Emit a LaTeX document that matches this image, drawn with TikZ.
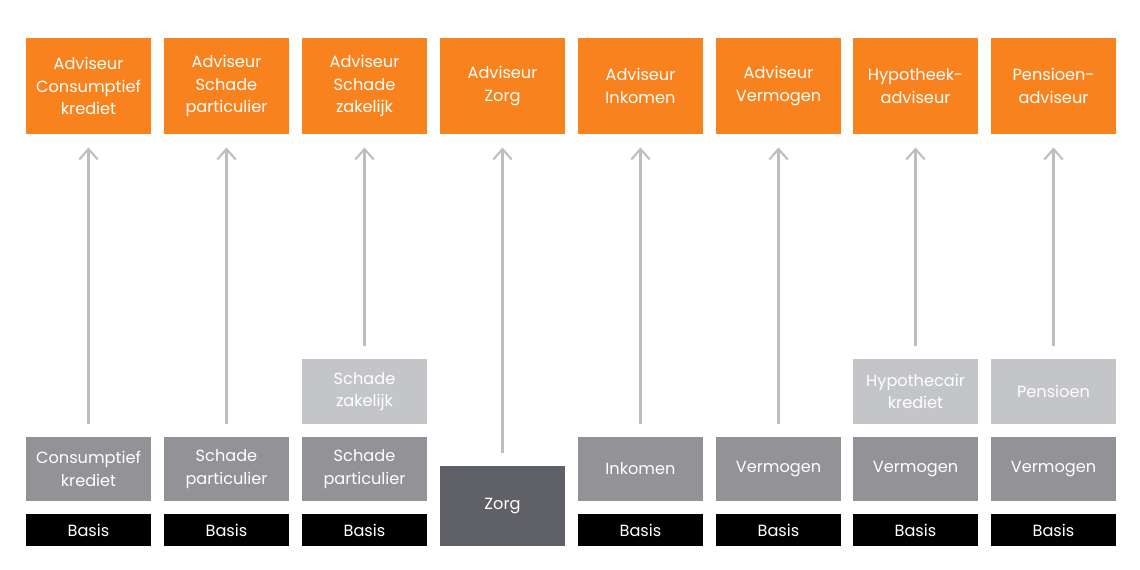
\documentclass[tikz,border=0pt]{standalone}
\usepackage{fontspec}
\setmainfont{Poppins}
\usepackage{xcolor}
\definecolor{advorange}{RGB}{248,131,30}
\definecolor{midgray}{RGB}{146,146,151}
\definecolor{lightgray}{RGB}{196,197,201}
\definecolor{darkgray}{RGB}{96,97,102}
\definecolor{arrowgray}{RGB}{190,190,194}
\usetikzlibrary{arrows.meta}

\tikzset{
  box/.style={minimum width=3.125cm, inner sep=0pt, align=center, text=white,
    font=\fontsize{11.5}{16}\selectfont},
  adviseur/.style={box, fill=advorange, minimum height=2.4cm},
  module/.style={box, fill=midgray, minimum height=1.6cm},
  extra/.style={box, fill=lightgray, minimum height=1.6cm},
  basis/.style={box, fill=black, minimum height=0.8cm},
  zorgbox/.style={box, fill=darkgray, minimum height=2cm},
  upline/.style={arrowgray, line width=1.5pt, -{Straight Barb[length=2.6mm, width=4.6mm]},
    shorten <=0.33cm, shorten >=0.33cm}
}

\begin{document}
\begin{tikzpicture}[x=0.025cm, y=-0.025cm]
  \useasboundingbox (0,0) rectangle (1140,570);

  % Bovenste rij: adviseursdiploma's
  \node[adviseur] (advck) at (88.5,86) {Adviseur\\Consumptief\\krediet};
  \node[adviseur] (advsp) at (226.5,86) {Adviseur\\Schade\\particulier};
  \node[adviseur] (advsz) at (364.5,86) {Adviseur\\Schade\\zakelijk};
  \node[adviseur] (advzo) at (502.5,86) {Adviseur\\Zorg};
  \node[adviseur] (advin) at (640.5,86) {Adviseur\\Inkomen};
  \node[adviseur] (advve) at (778.5,86) {Adviseur\\Vermogen};
  \node[adviseur] (advhy) at (915.5,86) {Hypotheek-\\adviseur};
  \node[adviseur] (advpe) at (1053.5,86) {Pensioen-\\adviseur};

  % Extra modules
  \node[extra] (modsz) at (364.5,391.5) {Schade\\zakelijk};
  \node[extra] (modhk) at (915.5,391.5) {Hypothecair\\krediet};
  \node[extra] (modpe) at (1053.5,391.5) {Pensioen};

  % Vakmodules
  \node[module] (modck) at (88.5,469) {Consumptief\\krediet};
  \node[module] (modsp1) at (226.5,469) {Schade\\particulier};
  \node[module] (modsp2) at (364.5,469) {Schade\\particulier};
  \node[zorgbox] (modzo) at (502.5,506) {Zorg};
  \node[module] (modin) at (640.5,469) {Inkomen};
  \node[module] (modve1) at (778.5,469) {Vermogen};
  \node[module] (modve2) at (915.5,469) {Vermogen};
  \node[module] (modve3) at (1053.5,469) {Vermogen};

  % Basismodule
  \node[basis] (bas1) at (88.5,530) {Basis};
  \node[basis] (bas2) at (226.5,530) {Basis};
  \node[basis] (bas3) at (364.5,530) {Basis};
  \node[basis] (bas5) at (640.5,530) {Basis};
  \node[basis] (bas6) at (778.5,530) {Basis};
  \node[basis] (bas7) at (915.5,530) {Basis};
  \node[basis] (bas8) at (1053.5,530) {Basis};

  % Pijlen naar de adviseursdiploma's
  \draw[upline] (modck) -- (advck);
  \draw[upline] (modsp1) -- (advsp);
  \draw[upline] (modsz) -- (advsz);
  \draw[upline] (modzo) -- (advzo);
  \draw[upline] (modin) -- (advin);
  \draw[upline] (modve1) -- (advve);
  \draw[upline] (modhk) -- (advhy);
  \draw[upline] (modpe) -- (advpe);
\end{tikzpicture}
\end{document}
